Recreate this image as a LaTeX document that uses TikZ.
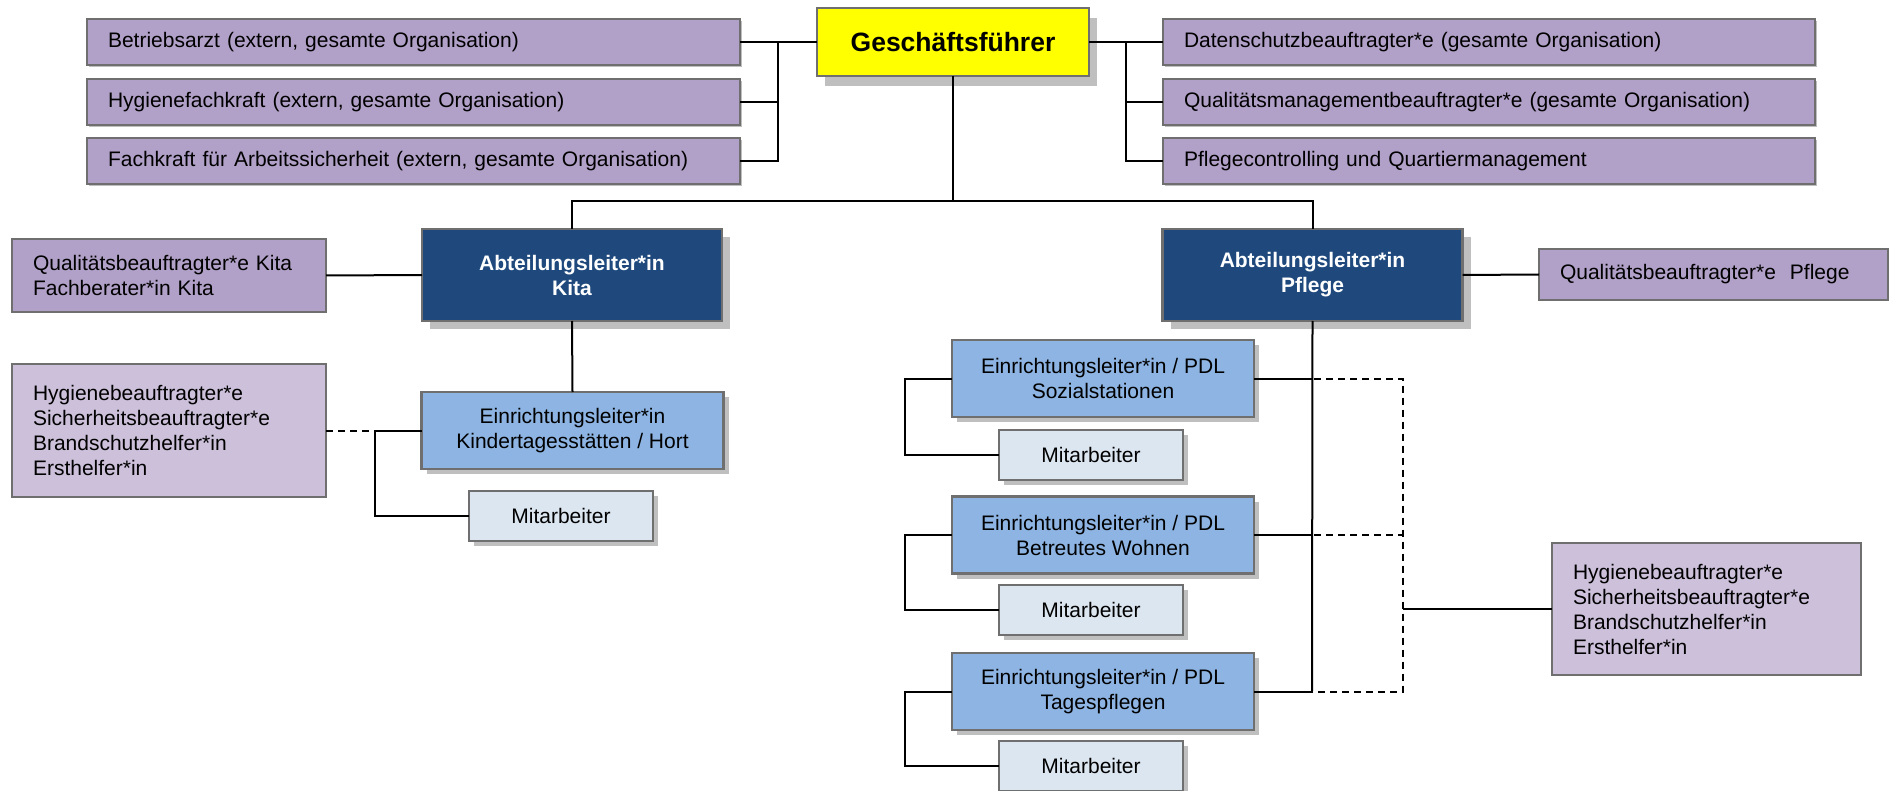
\documentclass[tikz,border=0pt]{standalone}
\usepackage{fontspec}
\setmainfont{Liberation Sans}
\usetikzlibrary{shadows}
\definecolor{purp}{HTML}{B1A0C7}
\definecolor{lpurp}{HTML}{CCC0DA}
\definecolor{dblue}{HTML}{1F497D}
\definecolor{mblue}{HTML}{8DB4E2}
\definecolor{lblue}{HTML}{DCE6F1}
\definecolor{gfyel}{HTML}{FFFF00}
\definecolor{bordc}{HTML}{6F6F6F}
\definecolor{shadc}{HTML}{BFBFBF}
\newcommand\myfn{\fontsize{21pt}{25pt}\selectfont}
\newcommand\mybf{\fontsize{21pt}{25pt}\selectfont\bfseries}
\newcommand\mygf{\fontsize{26.5pt}{32pt}\selectfont\bfseries}
\begin{document}
\begin{tikzpicture}[x=1pt,y=-1pt,
  box/.style={draw=bordc, line width=2.5pt, rectangle, inner sep=0pt, outer sep=0pt},
  shad/.style={drop shadow={shadow xshift=#1pt, shadow yshift=-#1pt, fill=shadc, opacity=1}},
  pbox/.style={box, fill=purp, font=\myfn, text width=#1, inner xsep=21pt, align=left, shad=2},
  hbox/.style={box, fill=lpurp, font=\myfn, text width=#1, inner xsep=21pt, align=left},
  gfbox/.style={box, fill=gfyel, font=\mygf, minimum width=272pt, minimum height=68pt,
     drop shadow={shadow xshift=8pt, shadow yshift=-10pt, fill=shadc, opacity=1}},
  albox/.style={box, fill=dblue, text=white, font=\mybf, align=center, minimum width=300pt, minimum height=92pt, shad=8},
  elbox/.style={box, fill=mblue, font=\myfn, align=center, minimum width=302pt, minimum height=77pt, shad=5},
  mabox/.style={box, fill=lblue, font=\myfn, align=center, minimum width=184pt, minimum height=50pt, shad=5},
  con/.style={draw=black, line width=2pt},
  dcon/.style={draw=black, line width=2pt, dash pattern=on 7pt off 5pt}
]
\useasboundingbox (0,0) rectangle (1892,791);

% Top
\node[gfbox] (gf) at (953,42) {Geschäftsführer};
\node[pbox=611pt, minimum height=46pt] (b1) at (413.5,42) {Betriebsarzt (extern, gesamte Organisation)};
\node[pbox=611pt, minimum height=46pt] (b2) at (413.5,102) {Hygienefachkraft (extern, gesamte Organisation)};
\node[pbox=611pt, minimum height=46pt] (b3) at (413.5,161) {Fachkraft für Arbeitssicherheit (extern, gesamte Organisation)};
\node[pbox=610pt, minimum height=46pt] (r1) at (1489,42) {Datenschutzbeauftragter*e (gesamte Organisation)};
\node[pbox=610pt, minimum height=46pt] (r2) at (1489,102) {Qualitätsmanagementbeauftragter*e (gesamte Organisation)};
\node[pbox=610pt, minimum height=46pt] (r3) at (1489,161) {Pflegecontrolling und Quartiermanagement};

% Department heads
\node[albox] (alk) at (572,275) {Abteilungsleiter*in\\Kita};
\node[albox] (alp) at (1312.5,275) {Abteilungsleiter*in\\Pflege};
\node[box, fill=purp, font=\myfn, text width=272pt, inner xsep=21pt, align=left, minimum height=73pt] (qk) at (169,275.5) {Qualitätsbeauftragter*e Kita\\Fachberater*in Kita};
\node[box, fill=purp, font=\myfn, text width=307pt, inner xsep=21pt, align=left, minimum height=51pt] (qp) at (1713.5,274.5) {Qualitätsbeauftragter*e~ Pflege};

% Kita branch
\node[elbox] (elk) at (572.5,430.5) {Einrichtungsleiter*in\\Kindertagesstätten / Hort};
\node[mabox] (mak) at (561,516) {Mitarbeiter};
\node[hbox=272pt, minimum height=133pt] (hyl) at (169,430.5) {Hygienebeauftragter*e\\Sicherheitsbeauftragter*e\\Brandschutzhelfer*in\\Ersthelfer*in\\[10pt]};

% Pflege branch
\node[elbox] (el1) at (1103,378.5) {Einrichtungsleiter*in / PDL\\Sozialstationen};
\node[mabox] (ma1) at (1091,455) {Mitarbeiter};
\node[elbox] (el2) at (1103,535) {Einrichtungsleiter*in / PDL\\Betreutes Wohnen};
\node[mabox] (ma2) at (1091,610) {Mitarbeiter};
\node[elbox] (el3) at (1103,691.5) {Einrichtungsleiter*in / PDL\\Tagespflegen};
\node[mabox] (ma3) at (1091,766) {Mitarbeiter};
\node[hbox=267pt, minimum height=132pt] (hyr) at (1706.5,609) {Hygienebeauftragter*e\\Sicherheitsbeauftragter*e\\Brandschutzhelfer*in\\Ersthelfer*in\\[10pt]};

% Connectors top
\coordinate (tl) at (778,42);
\coordinate (tr) at (1126,42);
\draw[con] (gf.west) -- (b1.east);
\draw[con] (tl) |- (b3.east);
\draw[con] (b2.east) -- (b2.east -| tl);
\draw[con] (gf.east) -- (r1.west);
\draw[con] (tr) |- (r3.west);
\draw[con] (r2.west) -- (r2.west -| tr);
\coordinate (hub) at (953,201);
\draw[con] (gf.south) -- (hub);
\draw[con] (alk.north) |- (hub) -| (alp.north);

% Kita
\draw[con] (qk.east) -- (alk.west);
\draw[con] (alk.south) -- (elk.north);
\coordinate (kb) at (375,431);
\draw[dcon] (hyl.east |- kb) -- (kb);
\draw[con] (elk.west |- kb) -- (kb) |- (mak.west);

% Pflege
\draw[con] (alp.east) -- (qp.west);
\coordinate (ptr) at (1312,691);
\draw[con] (alp.south) -- (ptr);
\coordinate (dv) at (1403,378.5);
\coordinate (dvb) at (1403,691.5);
\draw[dcon] (el1.east) -- (dv) -- (dvb) -- (el3.east);
\draw[dcon] (el2.east) -- (el2.east -| dv);
\draw[con] (el1.east) -- (el1.east -| ptr);
\draw[con] (el2.east) -- (el2.east -| ptr);
\draw[con] (el3.east) -- (el3.east -| ptr);
\draw[con] (hyr.west |- 0,609) -- (1403,609);
\coordinate (pl) at (905,0);
\draw[con] (el1.west) -- (el1.west -| pl) |- (ma1.west);
\draw[con] (el2.west) -- (el2.west -| pl) |- (ma2.west);
\draw[con] (el3.west) -- (el3.west -| pl) |- (ma3.west);
\end{tikzpicture}
\end{document}
